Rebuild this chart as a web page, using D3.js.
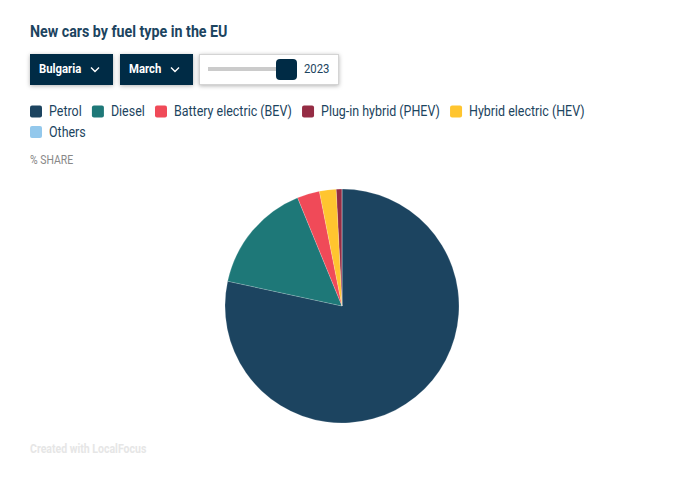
<!DOCTYPE html>
<html>
<head>
<meta charset="utf-8">
<script src="https://cdn.jsdelivr.net/npm/d3@7"></script>
<style>
    html, body { margin: 0; padding: 0; background: #fff; }
    svg { display: block; }
    text { font-family: Roboto, sans-serif; }
</style>
</head>
<body>
<svg id="chart"></svg>
<script>
    const categories = ['Petrol', 'Diesel', 'Battery electric (BEV)', 'Plug-in hybrid (PHEV)', 'Hybrid electric (HEV)', 'Others'];
    const shares = [78.4, 15.4, 3.1, 0.8, 2.3, 0];
    const colors = ['#1c4460', '#1e7878', '#f04a58', '#952c44', '#ffc52f', '#93c8ec'];

    const width = 683;
    const height = 484;

    const svg = d3.select('#chart').attr('width', width).attr('height', height);

    // Roboto squeezed to the condensed width of the original font
    const label = (parent, x, y, str, size, weight, fill, condense) => {
        const t = parent.append('text')
            .attr('x', x).attr('y', y)
            .style('font-size', `${size}px`)
            .style('font-weight', weight)
            .style('fill', fill)
            .text(str);
        const w = t.node().getComputedTextLength() * condense;
        t.attr('textLength', w).attr('lengthAdjust', 'spacingAndGlyphs');
        return w;
    };

    label(svg, 30, 36.5, 'New cars by fuel type in the EU', 16, 700, '#1c4460', 0.89);

    // Dropdowns
    const dropdown = (x, w, str) => {
        const g = svg.append('g').attr('transform', `translate(${x},54)`);
        g.append('rect').attr('width', w).attr('height', 31).attr('fill', '#002b45')
            .style('filter', 'drop-shadow(0 1px 2px rgba(0,0,0,.3))');
        label(g, 9, 19, str, 13, 700, '#fff', 0.87);
        g.append('path')
            .attr('d', `M${w - 22},13.5 l4,4 l4,-4`)
            .attr('fill', 'none').attr('stroke', '#fff').attr('stroke-width', 1.4);
    };
    dropdown(30, 83, 'Bulgaria');
    dropdown(120, 73, 'March');

    // Year slider
    const slider = svg.append('g').attr('transform', 'translate(199.5,54.5)');
    slider.append('rect').attr('width', 139).attr('height', 30)
        .attr('fill', '#fff').attr('stroke', '#d4d4d4')
        .style('filter', 'drop-shadow(0 1px 2px rgba(0,0,0,.3))');
    slider.append('rect').attr('x', 8.5).attr('y', 12.5).attr('width', 72).attr('height', 4).attr('fill', '#cbcbcb');
    slider.append('rect').attr('x', 76.5).attr('y', 4.5).attr('width', 21).attr('height', 21).attr('rx', 4).attr('fill', '#002b45');
    label(slider, 104.5, 18.5, '2023', 13, 400, '#1c4460', 0.87);

    // Legend, wraps after the fifth entry
    const legend = svg.append('g');
    let lx = 30;
    let ly = 105.5;
    categories.forEach((c, i) => {
        if (lx > 500) { lx = 30; ly += 20.5; }
        legend.append('rect').attr('x', lx).attr('y', ly).attr('width', 12).attr('height', 12).attr('rx', 2).attr('fill', colors[i]);
        const w = label(legend, lx + 19, ly + 10.5, c, 14, 400, '#1c4460', 0.89);
        lx += 19 + w + 10.2;
    });

    label(svg, 30, 164, '% SHARE', 12, 400, '#888', 0.87);

    // Pie, d3.pie sorts the slices by value
    const pie = d3.pie().value(d => d.share);
    const arc = d3.arc().innerRadius(0).outerRadius(117);
    const data = categories.map((c, i) => ({ name: c, share: shares[i], color: colors[i] }));

    svg.append('g').attr('transform', 'translate(342,306)')
        .selectAll('path')
        .data(pie(data))
        .enter()
        .append('path')
        .attr('d', arc)
        .attr('fill', d => d.data.color)
        .attr('stroke', 'rgba(255,255,255,.35)')
        .attr('stroke-width', 0.5);

    label(svg, 30, 453, 'Created with LocalFocus', 13, 700, '#e6e6e6', 0.81);
</script>
</body>
</html>
